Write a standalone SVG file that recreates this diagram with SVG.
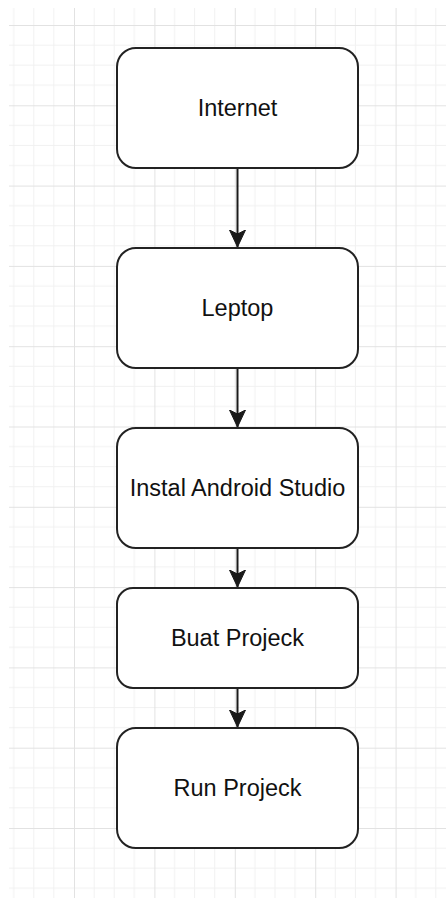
<svg xmlns="http://www.w3.org/2000/svg" width="446" height="898" viewBox="0 0 446 898">
  <defs>
    <pattern id="grid" patternUnits="userSpaceOnUse" x="-6.4" y="-55.3" width="80.4" height="80.3">
      <path d="M20.1 0V80.3M40.2 0V80.3M60.3 0V80.3M0 20.1H80.4M0 40.2H80.4M0 60.3H80.4" stroke="#f1f1f1" stroke-width="1" fill="none"/>
      <path d="M0.5 0V80.3M0 0.5H80.4" stroke="#e2e2e2" stroke-width="1" fill="none"/>
    </pattern>
    <marker id="arrow" markerUnits="userSpaceOnUse" viewBox="0 0 18 18" refX="17" refY="9" markerWidth="18" markerHeight="18" orient="auto">
      <path d="M0 1 L17 9 L0 17 L4 9 Z" fill="#1a1a1a" stroke="#1a1a1a" stroke-width="1" stroke-linejoin="miter"/>
    </marker>
  </defs>
  <style>
    .node rect { fill: #ffffff; stroke: #222222; stroke-width: 2; }
    .node text { font-family: "Liberation Sans", Arial, sans-serif; font-size: 23.5px; fill: #111111; text-anchor: middle; }
    .edge { stroke: #1a1a1a; stroke-width: 2; fill: none; marker-end: url(#arrow); }
  </style>
  <rect width="446" height="898" fill="#ffffff"/>
  <rect x="9" y="8" width="437" height="890" fill="url(#grid)"/>

  <g id="connectors">
    <line class="edge" x1="237.5" y1="169" x2="237.5" y2="247"/>
    <line class="edge" x1="237.5" y1="369" x2="237.5" y2="427"/>
    <line class="edge" x1="237.5" y1="549" x2="237.5" y2="587"/>
    <line class="edge" x1="237.5" y1="689" x2="237.5" y2="727"/>
  </g>

  <g id="node-internet" class="node">
    <rect x="117" y="48" width="241" height="120" rx="19" ry="19"/>
    <text x="237.5" y="115.5">Internet</text>
  </g>
  <g id="node-leptop" class="node">
    <rect x="117" y="248" width="241" height="120" rx="19" ry="19"/>
    <text x="237.5" y="316">Leptop</text>
  </g>
  <g id="node-instal" class="node">
    <rect x="117" y="428" width="241" height="120" rx="19" ry="19"/>
    <text x="237.5" y="496">Instal Android Studio</text>
  </g>
  <g id="node-buat" class="node">
    <rect x="117" y="588" width="241" height="100" rx="16" ry="16"/>
    <text x="237.5" y="646">Buat Projeck</text>
  </g>
  <g id="node-run" class="node">
    <rect x="117" y="728" width="241" height="120" rx="19" ry="19"/>
    <text x="237.5" y="796">Run Projeck</text>
  </g>
</svg>
